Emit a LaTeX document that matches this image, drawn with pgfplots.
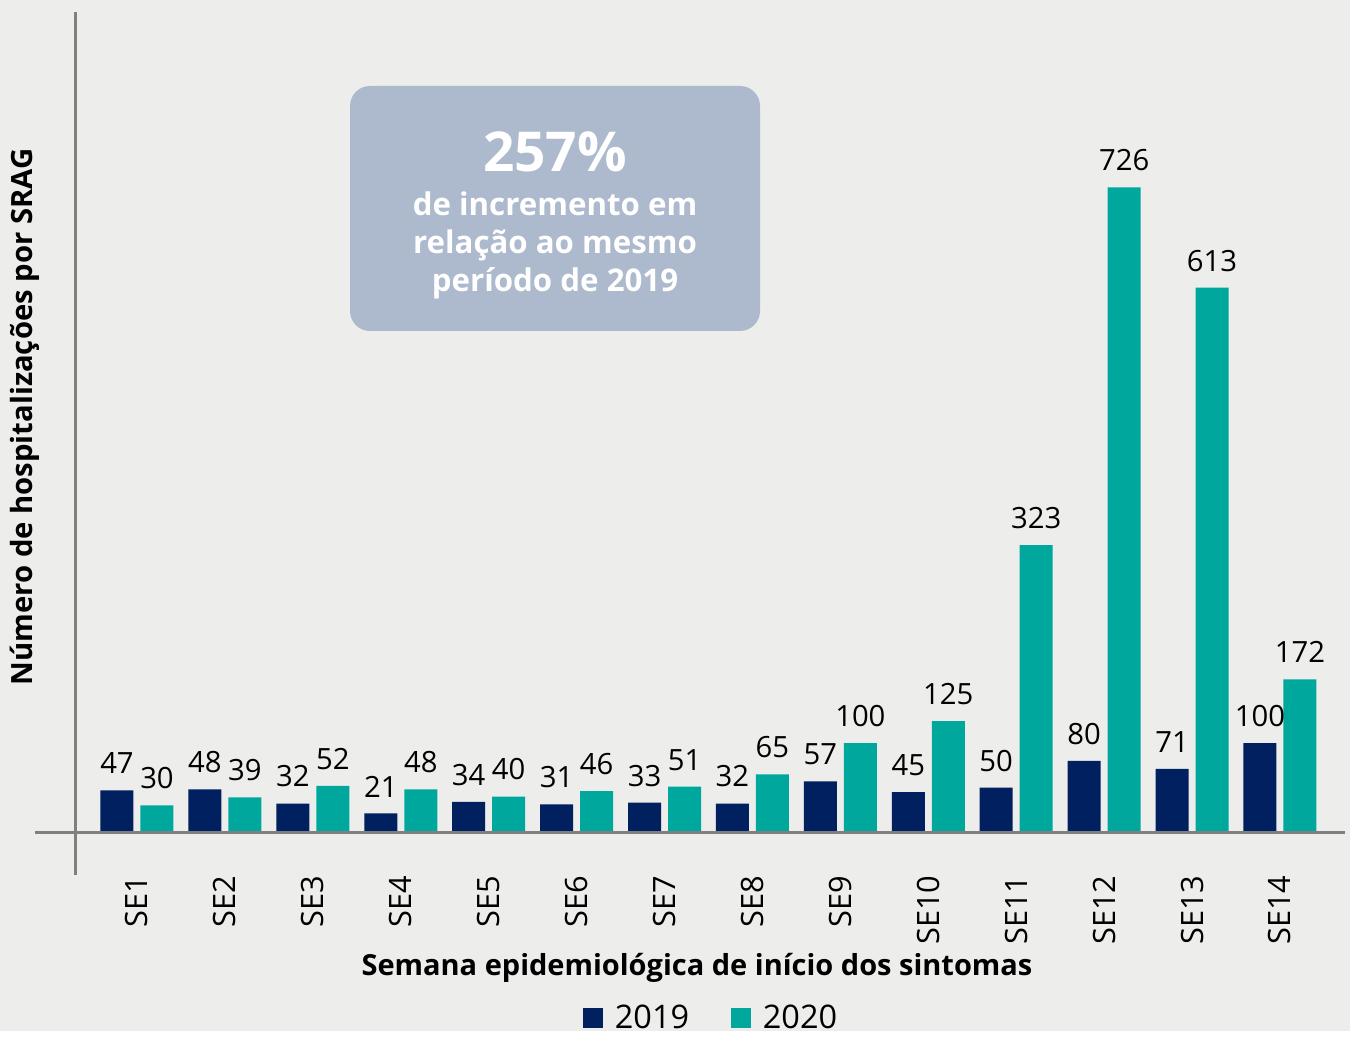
\documentclass[border=0pt]{standalone}
\usepackage{pgfplots}
\pgfplotsset{compat=1.18}
\usepackage{fontspec}
\setmainfont{Open Sans}
\definecolor{navy}{HTML}{00205F}
\definecolor{teal2}{HTML}{00A79D}
\definecolor{boxc}{HTML}{ADB9CC}
\definecolor{bg}{HTML}{EDEDEB}
\definecolor{axg}{HTML}{808080}
\pgfplotstableread{
x a b
0 47 30
1 48 39
2 32 52
3 21 48
4 34 40
5 31 46
6 33 51
7 32 65
8 57 100
9 45 125
10 50 323
11 80 726
12 71 613
13 100 172
}\data
\begin{document}
\begin{tikzpicture}
\begin{scope}[x=0.4pt,y=-0.4pt,yshift=412.4pt]
\fill[bg] (0,0) rectangle (1350,1031);
\end{scope}
\begin{axis}[
  at={(30pt,62.4pt)}, anchor=south west,
  scale only axis, width=508pt, height=345.2pt,
  xmin=-0.705, xmax=13.74, ymin=-48.4, ymax=923.4,
  axis lines=left,
  y axis line style={axg, line width=1.2pt, -},
  x axis line style={draw=none},
  ytick=\empty,
  xtick=data,
  xticklabels={SE1,SE2,SE3,SE4,SE5,SE6,SE7,SE8,SE9,SE10,SE11,SE12,SE13,SE14},
  xtick style={draw=none},
  major tick length=0pt,
  xticklabel style={rotate=90, anchor=east, inner sep=0pt, font=\fontsize{12.3}{13}\selectfont},
  ybar=2.8pt, bar width=13.2pt,
  /pgf/number format/assume math mode=true,
  nodes near coords,
  every node near coord/.append style={font=\fontsize{11.7}{12}\selectfont, text=black, yshift=3pt},
  clip=false,
]
\addplot[fill=navy, draw=none] table[x=x,y=a]{\data};
\addplot[fill=teal2, draw=none] table[x=x,y=b]{\data};
\draw[axg, line width=1.2pt] ([xshift=-16pt]axis cs:-0.705,0) -- (axis cs:13.74,0);
\end{axis}
\begin{scope}[x=0.4pt,y=-0.4pt,yshift=412.4pt]
\fill[boxc, rounded corners=8pt] (350,86) rectangle (760,331);
\node[text=white, font=\fontsize{22}{24}\bfseries] at (555,152) {257\%};
\node[text=white, font=\fontsize{12.5}{15.2}\bfseries, align=center, anchor=north] at (555,183) {de incremento em\\relação ao mesmo\\período de 2019};
\node[rotate=90, font=\fontsize{11.7}{12}\bfseries] at (25,417) {Número de hospitalizações por SRAG};
\node[font=\fontsize{11.6}{12}\bfseries] at (697,968) {Semana epidemiológica de início dos sintomas};
\fill[navy] (583,1008) rectangle (603,1028);
\node[anchor=west, font=\fontsize{13}{13}\selectfont] at (606,1017) {2019};
\fill[teal2] (731,1008) rectangle (751,1028);
\node[anchor=west, font=\fontsize{13}{13}\selectfont] at (754,1017) {2020};
\end{scope}
\end{tikzpicture}
\end{document}
